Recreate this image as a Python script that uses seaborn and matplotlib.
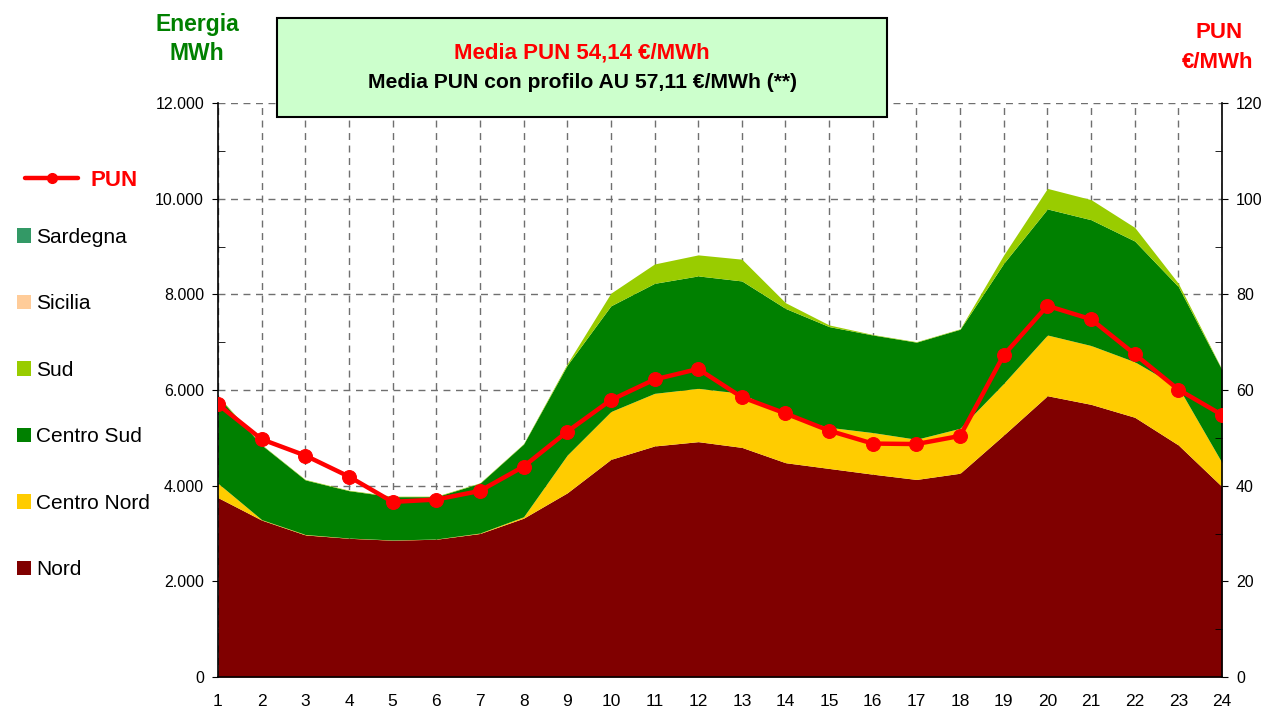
import matplotlib
matplotlib.use("Agg")
import matplotlib.pyplot as plt
import seaborn as sns
import numpy as np
from matplotlib.ticker import FuncFormatter, MultipleLocator
from matplotlib.patches import Patch, Rectangle
from matplotlib.lines import Line2D

hours = list(range(1, 25))
nord = [3750, 3280, 2970, 2900, 2860, 2880, 3000, 3320, 3850, 4550, 4830, 4920,
        4800, 4480, 4360, 4240, 4130, 4260, 5060, 5880, 5700, 5430, 4850, 3980]
centro_nord = [300, 10, 10, 5, 5, 5, 10, 30, 790, 1000, 1100, 1115,
               1130, 975, 860, 870, 840, 940, 1080, 1270, 1230, 1160, 1210, 500]
centro_sud = [1810, 1560, 1140, 990, 905, 885, 1040, 1520, 1880, 2210, 2300, 2350,
              2350, 2250, 2105, 2040, 2030, 2070, 2510, 2635, 2630, 2525, 2100, 1940]
sud = [20, 10, 10, 10, 10, 10, 10, 10, 30, 265, 405, 440,
       455, 120, 35, 10, 10, 10, 175, 430, 420, 285, 70, 10]
sicilia = [0] * 24
sardegna = [0] * 24
pun = [57.0, 49.7, 46.3, 41.9, 36.6, 37.1, 38.9, 44.0, 51.3, 57.9, 62.2, 64.4,
       58.5, 55.1, 51.5, 48.8, 48.7, 50.4, 67.3, 77.6, 74.8, 67.5, 60.1, 54.8]

zone_names = ["Nord", "Centro Nord", "Centro Sud", "Sud", "Sicilia", "Sardegna"]
zone_colors = ["#800000", "#FFCC00", "#008000", "#99CC00", "#FFCC99", "#339966"]

sns.set_style("white")
plt.rcParams["font.family"] = ["Liberation Sans", "DejaVu Sans"]
plt.rcParams["text.color"] = "black"
plt.rcParams["xtick.color"] = "black"
plt.rcParams["ytick.color"] = "black"
plt.rcParams["axes.labelcolor"] = "black"

W, H = 1262, 711
fig = plt.figure(figsize=(W / 100, H / 100), dpi=100)
ax = fig.add_axes([218 / W, 1 - 677 / H, (1222 - 218) / W, (677 - 103) / H])

ax.stackplot(hours, nord, centro_nord, centro_sud, sud, sicilia, sardegna,
             colors=zone_colors, linewidth=0, zorder=2)
ax.set_xlim(1, 24)
ax.set_ylim(0, 12000)
ax.set_xticks(hours)
ax.set_yticks(range(0, 12001, 2000))
ax.yaxis.set_minor_locator(MultipleLocator(1000))
ax.yaxis.set_major_formatter(FuncFormatter(lambda v, p: f"{int(v):,}".replace(",", ".")))
ax.set_axisbelow(True)
ax.grid(True, which="major", linestyle=(0, (5, 4)), color="#6f6f6f", linewidth=1)
for s in ["top", "right"]:
    ax.spines[s].set_visible(False)
for s in ["left", "bottom"]:
    ax.spines[s].set_color("black")
    ax.spines[s].set_linewidth(1.2)
ax.tick_params(axis="x", direction="out", length=6, labelsize=12.5, pad=6,
               colors="black")
ax.tick_params(axis="y", which="major", direction="out", length=4, labelsize=11.5,
               pad=6, colors="black")
ax.tick_params(axis="y", which="minor", direction="in", length=5, left=True,
               colors="black")

ax2 = ax.twinx()
sns.lineplot(x=hours, y=pun, ax=ax2, color="#FF0000", linewidth=3.2, marker="o",
             markersize=10, markeredgecolor="#FF0000", zorder=5)
ax2.set_ylim(0, 120)
ax2.set_yticks(range(0, 121, 20))
ax2.yaxis.set_minor_locator(MultipleLocator(10))
ax2.spines["top"].set_visible(False)
ax2.spines["left"].set_visible(False)
ax2.spines["bottom"].set_visible(False)
ax2.spines["right"].set_color("black")
ax2.spines["right"].set_linewidth(1.2)
ax2.tick_params(axis="y", which="major", direction="out", length=4, labelsize=11.5,
                pad=6, colors="black")
ax2.tick_params(axis="y", which="minor", direction="in", length=5, right=True,
                colors="black")
ax2.set_xlim(1, 24)
ax2.set_ylabel("")

# Title box
fig.patches.append(Rectangle((277 / W, 1 - 117 / H), 610 / W, 99 / H,
                             transform=fig.transFigure, facecolor="#CCFFCC",
                             edgecolor="black", linewidth=1.5, zorder=0))
fig.text(582 / W, 1 - 53 / H, "Media PUN 54,14 €/MWh", color="#FF0000",
         fontsize=16, fontweight="bold", ha="center", va="center")
fig.text(582 / W, 1 - 82 / H, "Media PUN con profilo AU 57,11 €/MWh (**)",
         color="black", fontsize=15.2, fontweight="bold", ha="center", va="center")

# Axis titles
fig.text(197 / W, 1 - 25 / H, "Energia", color="#008000", fontsize=16.5,
         fontweight="bold", ha="center", va="center")
fig.text(197 / W, 1 - 54 / H, "MWh", color="#008000", fontsize=16.5,
         fontweight="bold", ha="center", va="center")
fig.text(1219 / W, 1 - 33 / H, "PUN", color="#FF0000", fontsize=16,
         fontweight="bold", ha="center", va="center")
fig.text(1218 / W, 1 - 63 / H, "€/MWh", color="#FF0000", fontsize=16,
         fontweight="bold", ha="center", va="center")

# Legends
pun_handle = Line2D([0], [0], color="#FF0000", linewidth=3.2, marker="o", markersize=7)
leg1 = fig.legend([pun_handle], ["PUN"], loc="center left",
                  bbox_to_anchor=(25 / W, 1 - 180 / H), frameon=False,
                  handlelength=2.4, handletextpad=0.55, borderpad=0, borderaxespad=0,
                  prop={"size": 16, "weight": "bold"})
for t in leg1.get_texts():
    t.set_color("#FF0000")

handles = [Patch(facecolor=c, edgecolor="none") for c in zone_colors[::-1]]
leg2 = fig.legend(handles, zone_names[::-1], loc="center left",
                  bbox_to_anchor=(17 / W, 1 - 403.5 / H), frameon=False,
                  handlelength=0.68, handleheight=0.68, handletextpad=0.25,
                  labelspacing=2.28, borderpad=0, borderaxespad=0,
                  prop={"size": 15})
for t in leg2.get_texts():
    t.set_color("black")

fig.savefig("out.png", dpi=100)
